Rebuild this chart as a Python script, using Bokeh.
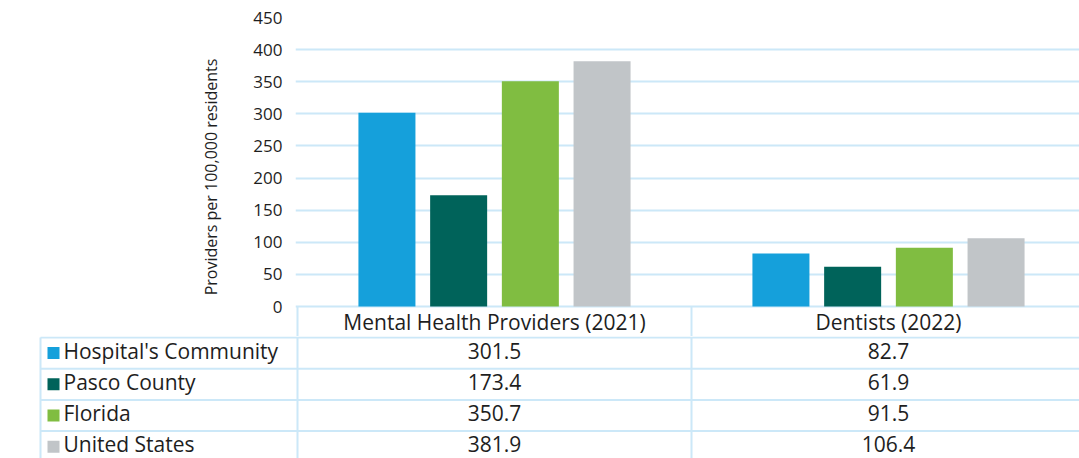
from bokeh.plotting import figure
from bokeh.layouts import column
from bokeh.models import Range1d, FixedTicker, ColumnDataSource
from bokeh.core.properties import value
from bokeh.embed import file_html
from bokeh.resources import INLINE

categories = ["Mental Health Providers (2021)", "Dentists (2022)"]
series = ["Hospital's Community", "Pasco County", "Florida", "United States"]
colors = ["#15a0db", "#00635a", "#80bd41", "#c1c5c8"]
values = {
    "Hospital's Community": [301.5, 82.7],
    "Pasco County": [173.4, 61.9],
    "Florida": [350.7, 91.5],
    "United States": [381.9, 106.4],
}
y_ticks = [0, 50, 100, 150, 200, 250, 300, 350, 400, 450]

FONT = "Open Sans"
TXT = "#1e1e1e"
LINE = "#cce8f8"
CAT_PX = 394.0          # pixel width of one category column
PX_PER_UNIT = 289.0 / 450.0

# ---------------- chart ----------------
left_px = 295
top_h = 336
x_start = -(297 - left_px) / CAT_PX
x_end = (1079 - 297) / CAT_PX
y_start = -((top_h - 306) / PX_PER_UNIT)

p = figure(width=1079, height=top_h, output_backend="svg", toolbar_location=None,
           x_range=Range1d(x_start, x_end), y_range=Range1d(y_start, 450),
           min_border_left=left_px, min_border_right=0, min_border_top=17,
           min_border_bottom=0, outline_line_color=None, frame_align=False)
p.xaxis.visible = False
p.xgrid.visible = False
p.yaxis.ticker = FixedTicker(ticks=y_ticks)
p.ygrid.ticker = FixedTicker(ticks=y_ticks)
p.ygrid.grid_line_color = LINE
p.ygrid.grid_line_width = 2
p.yaxis.axis_line_color = None
p.yaxis.major_tick_line_color = None
p.yaxis.minor_tick_line_color = None
p.yaxis.major_tick_out = 0
p.yaxis.major_label_standoff = 13
p.yaxis.major_label_text_font = FONT
p.yaxis.major_label_text_font_size = "17px"
p.yaxis.major_label_text_color = TXT
p.yaxis.axis_label = "Providers per 100,000 residents"
p.yaxis.axis_label_text_font = FONT
p.yaxis.axis_label_text_font_size = "16px"
p.yaxis.axis_label_text_font_style = "normal"
p.yaxis.axis_label_text_color = TXT
p.yaxis.axis_label_standoff = 28

step = 0.182
width = 0.1447
offsets = [(-1.5 + i) * step for i in range(len(series))]
for i, s in enumerate(series):
    xs = [c + 0.5 + offsets[i] for c in range(len(categories))]
    p.vbar(x=xs, top=values[s], bottom=0, width=width, fill_color=colors[i],
           line_color=None)

# header row
hdr = ColumnDataSource(dict(x=[c + 0.5 for c in range(len(categories))],
                            y=[y_start / 2] * len(categories), t=categories))
p.text(x="x", y="y", text="t", source=hdr, text_align="center",
       text_baseline="middle", text_font=value(FONT), text_font_size="21px",
       text_color=TXT)
p.segment(x0=[0, 1, 2], y0=[0, 0, 0], x1=[0, 1, 2], y1=[y_start] * 3,
          line_color=LINE, line_width=2)

# ---------------- table ----------------
bot_h = 458 - top_h
ROW_PX = 31.2
r_top = -(337 - top_h) / ROW_PX
r_bot = (458 - 337) / ROW_PX
t = figure(width=1079, height=bot_h, output_backend="svg", toolbar_location=None,
           x_range=Range1d(-297 / CAT_PX, x_end), y_range=Range1d(r_bot, r_top),
           min_border_left=0, min_border_right=0, min_border_top=0,
           min_border_bottom=0, outline_line_color=None, frame_align=False)
t.axis.visible = False
t.grid.visible = False

n = len(series)
x_tab_left = (40 - 297) / CAT_PX
t.segment(x0=[x_tab_left] * (n + 1), y0=list(range(n + 1)),
          x1=[2] * (n + 1), y1=list(range(n + 1)), line_color=LINE, line_width=2)
t.segment(x0=[x_tab_left, 0, 1, 2], y0=[0] * 4, x1=[x_tab_left, 0, 1, 2],
          y1=[n] * 4, line_color=LINE, line_width=2)

rows_y = [r + 0.5 for r in range(n)]
text_y = [r + 0.42 for r in range(n)]
t.scatter(x=[(53 - 297) / CAT_PX] * n, y=rows_y, marker="square", size=12,
          fill_color=colors, line_color=None)
t.text(x=[(63 - 297) / CAT_PX] * n, y=text_y, text=series, text_align="left",
       text_baseline="middle", text_font=value(FONT), text_font_size="21px",
       text_color=TXT)
for c in range(len(categories)):
    t.text(x=[c + 0.5] * n, y=text_y, text=[f"{values[s][c]:.1f}" for s in series],
           text_align="center", text_baseline="middle", text_font=value(FONT),
           text_font_size="21px", text_color=TXT)

layout = column(p, t, spacing=0)
open("out.html", "w").write(file_html(layout, INLINE))
